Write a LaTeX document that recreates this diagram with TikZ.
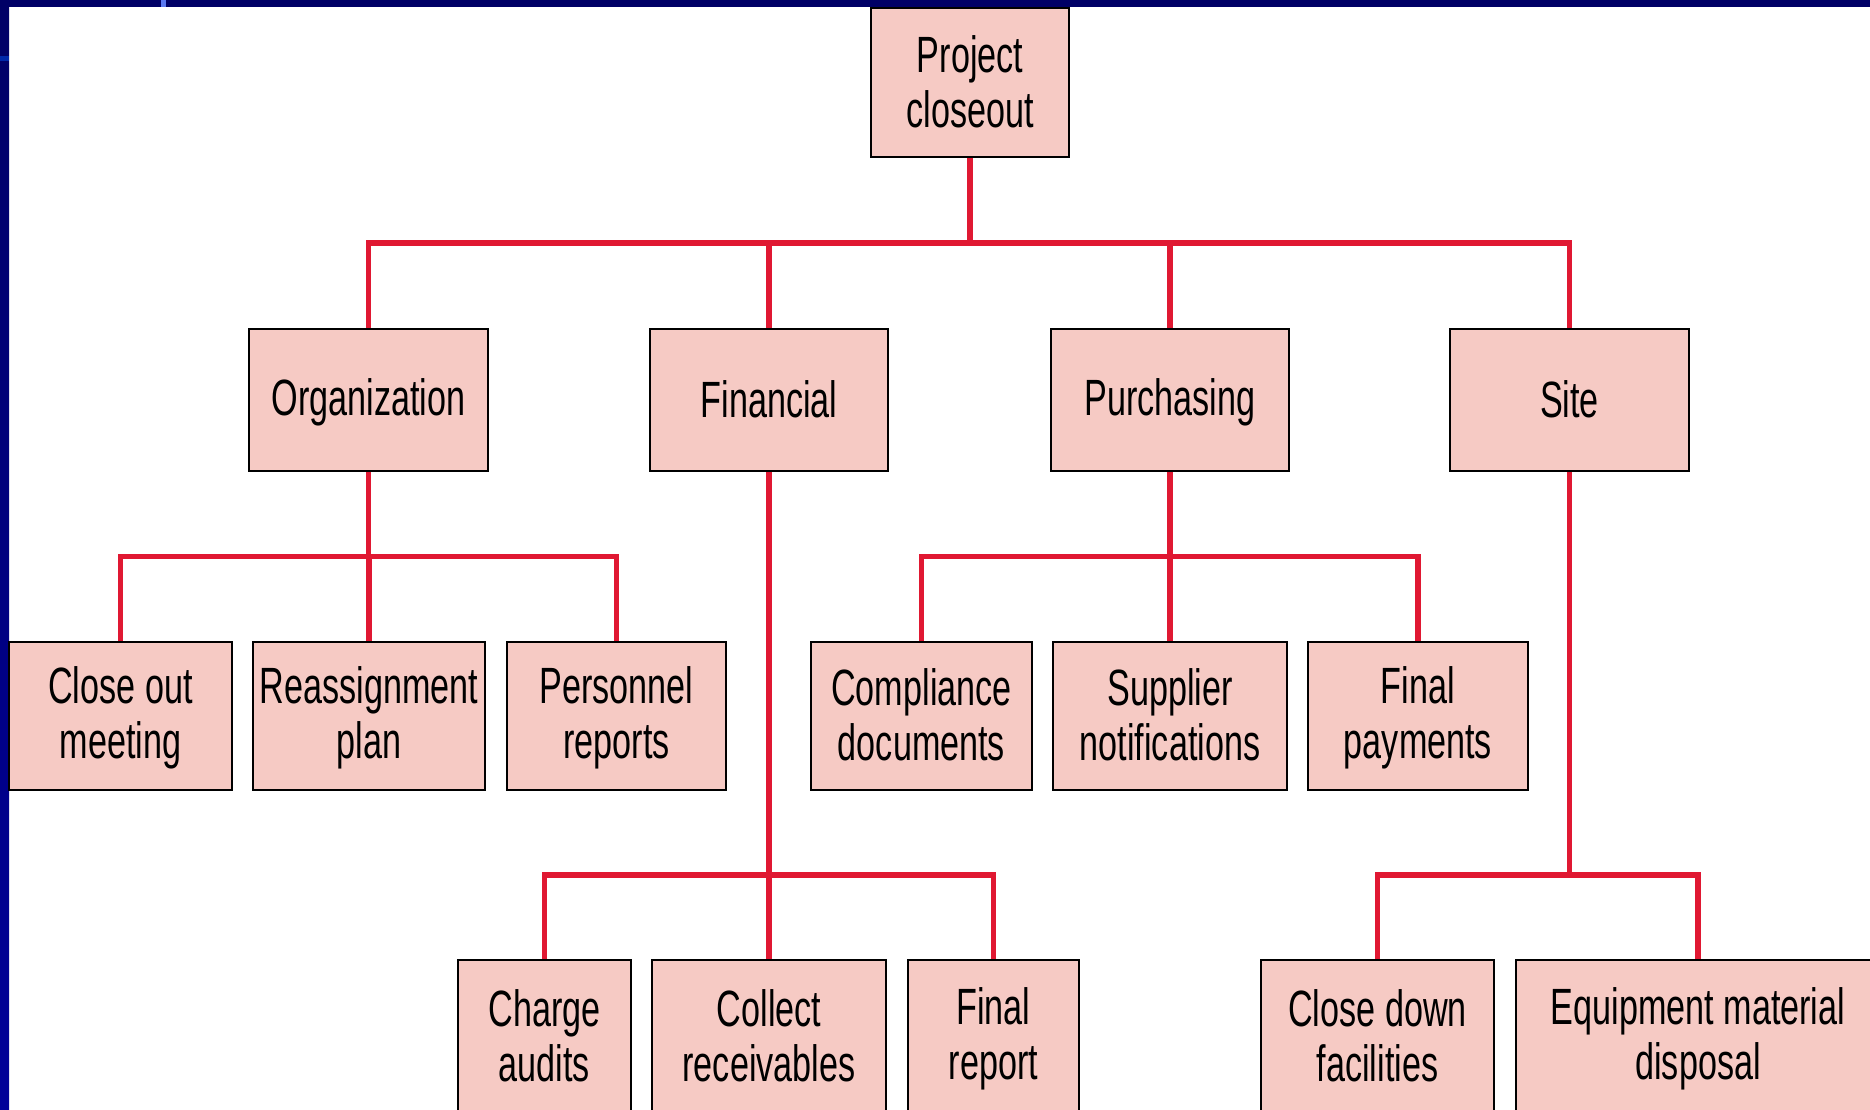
\documentclass[tikz,border=0pt]{standalone}
\usepackage{fontspec}
\setmainfont{Liberation Sans}[FakeStretch=0.67]
\definecolor{boxfill}{RGB}{246,202,196}
\definecolor{linered}{RGB}{224,24,50}
\definecolor{navytop}{RGB}{0,0,102}
\definecolor{navybot}{RGB}{0,0,153}
\definecolor{markleft}{RGB}{0,40,170}
\definecolor{marktop}{RGB}{90,120,240}
\newcommand{\bs}{\rule[-7pt]{0pt}{48pt}}
\begin{document}
\begin{tikzpicture}[x=1pt,y=-1pt,
  box/.style={draw=black, line width=2.2pt, fill=boxfill, inner sep=0pt, align=center,
    font=\fontsize{51}{55}\selectfont},
  conn/.style={draw=linered, line width=5.6pt}]
\clip (0,0) rectangle (1870,1109);
\fill[white] (0,0) rectangle (1870,1109);
% frame
\fill[navytop] (0,0) rectangle (1870,7);
\shade[top color=navytop, bottom color=navybot] (0,0) rectangle (9,1109);
\fill[markleft] (0,56) rectangle (9,61);
\fill[marktop] (161,0) rectangle (166,7);
% level 1
\node[box, minimum width=198pt, minimum height=149pt] (top) at (970,82.5) {\bs Project\\\bs closeout};
% level 2
\node[box, minimum width=239pt, minimum height=142pt] (org) at (368.5,400) {\bs Organization};
\node[box, minimum width=238pt, minimum height=142pt] (fin) at (769,400) {\bs Financial};
\node[box, minimum width=238pt, minimum height=142pt] (pur) at (1170,400) {\bs Purchasing};
\node[box, minimum width=239pt, minimum height=142pt] (site) at (1569.5,400) {\bs Site};
% level 3
\node[box, minimum width=223pt, minimum height=148pt] (close) at (120.5,716) {\bs Close out\\\bs meeting};
\node[box, minimum width=232pt, minimum height=148pt] (reas) at (369,716) {\bs Reassignment\\\bs plan};
\node[box, minimum width=219pt, minimum height=148pt] (pers) at (616.5,716) {\bs Personnel\\\bs reports};
\node[box, minimum width=221pt, minimum height=148pt] (comp) at (921.5,716) {\bs Compliance\\\bs documents};
\node[box, minimum width=234pt, minimum height=148pt] (supp) at (1170,716) {\bs Supplier\\\bs notifications};
\node[box, minimum width=220pt, minimum height=148pt] (fpay) at (1418,716) {\bs Final\\\bs payments};
% level 4
\node[box, minimum width=173pt, minimum height=154pt] (charge) at (544.5,1037) {\bs Charge\\\bs audits};
\node[box, minimum width=234pt, minimum height=154pt] (coll) at (769,1037) {\bs Collect\\\bs receivables};
\node[box, minimum width=171pt, minimum height=154pt] (frep) at (993.5,1037) {\bs Final\\\bs report};
\node[box, minimum width=233pt, minimum height=154pt] (cdown) at (1377.5,1037) {\bs Close down\\\bs facilities};
\node[box, minimum width=364pt, minimum height=154pt] (equip) at (1698,1037) {\bs Equipment material\\\bs disposal};
% bus coordinates
\coordinate (b1) at (970,243);
\coordinate (b2) at (368.5,556.5);
\coordinate (b3) at (1170,556.5);
\coordinate (b4) at (769,875);
\coordinate (b5) at (1569.5,875);
% connectors
\draw[conn] (top.south) -- (b1);
\draw[conn] (org.north) |- (b1);
\draw[conn] (fin.north) |- (b1);
\draw[conn] (pur.north) |- (b1);
\draw[conn] (site.north) |- (b1);
\draw[conn] (org.south) -- (b2);
\draw[conn] (close.north) |- (b2);
\draw[conn] (reas.north) |- (b2);
\draw[conn] (pers.north) |- (b2);
\draw[conn] (pur.south) -- (b3);
\draw[conn] (comp.north) |- (b3);
\draw[conn] (supp.north) |- (b3);
\draw[conn] (fpay.north) |- (b3);
\draw[conn] (fin.south) -- (b4);
\draw[conn] (charge.north) |- (b4);
\draw[conn] (coll.north) |- (b4);
\draw[conn] (frep.north) |- (b4);
\draw[conn] (site.south) -- (b5);
\draw[conn] (cdown.north) |- (b5);
\draw[conn] (equip.north) |- (b5);
\end{tikzpicture}
\end{document}
